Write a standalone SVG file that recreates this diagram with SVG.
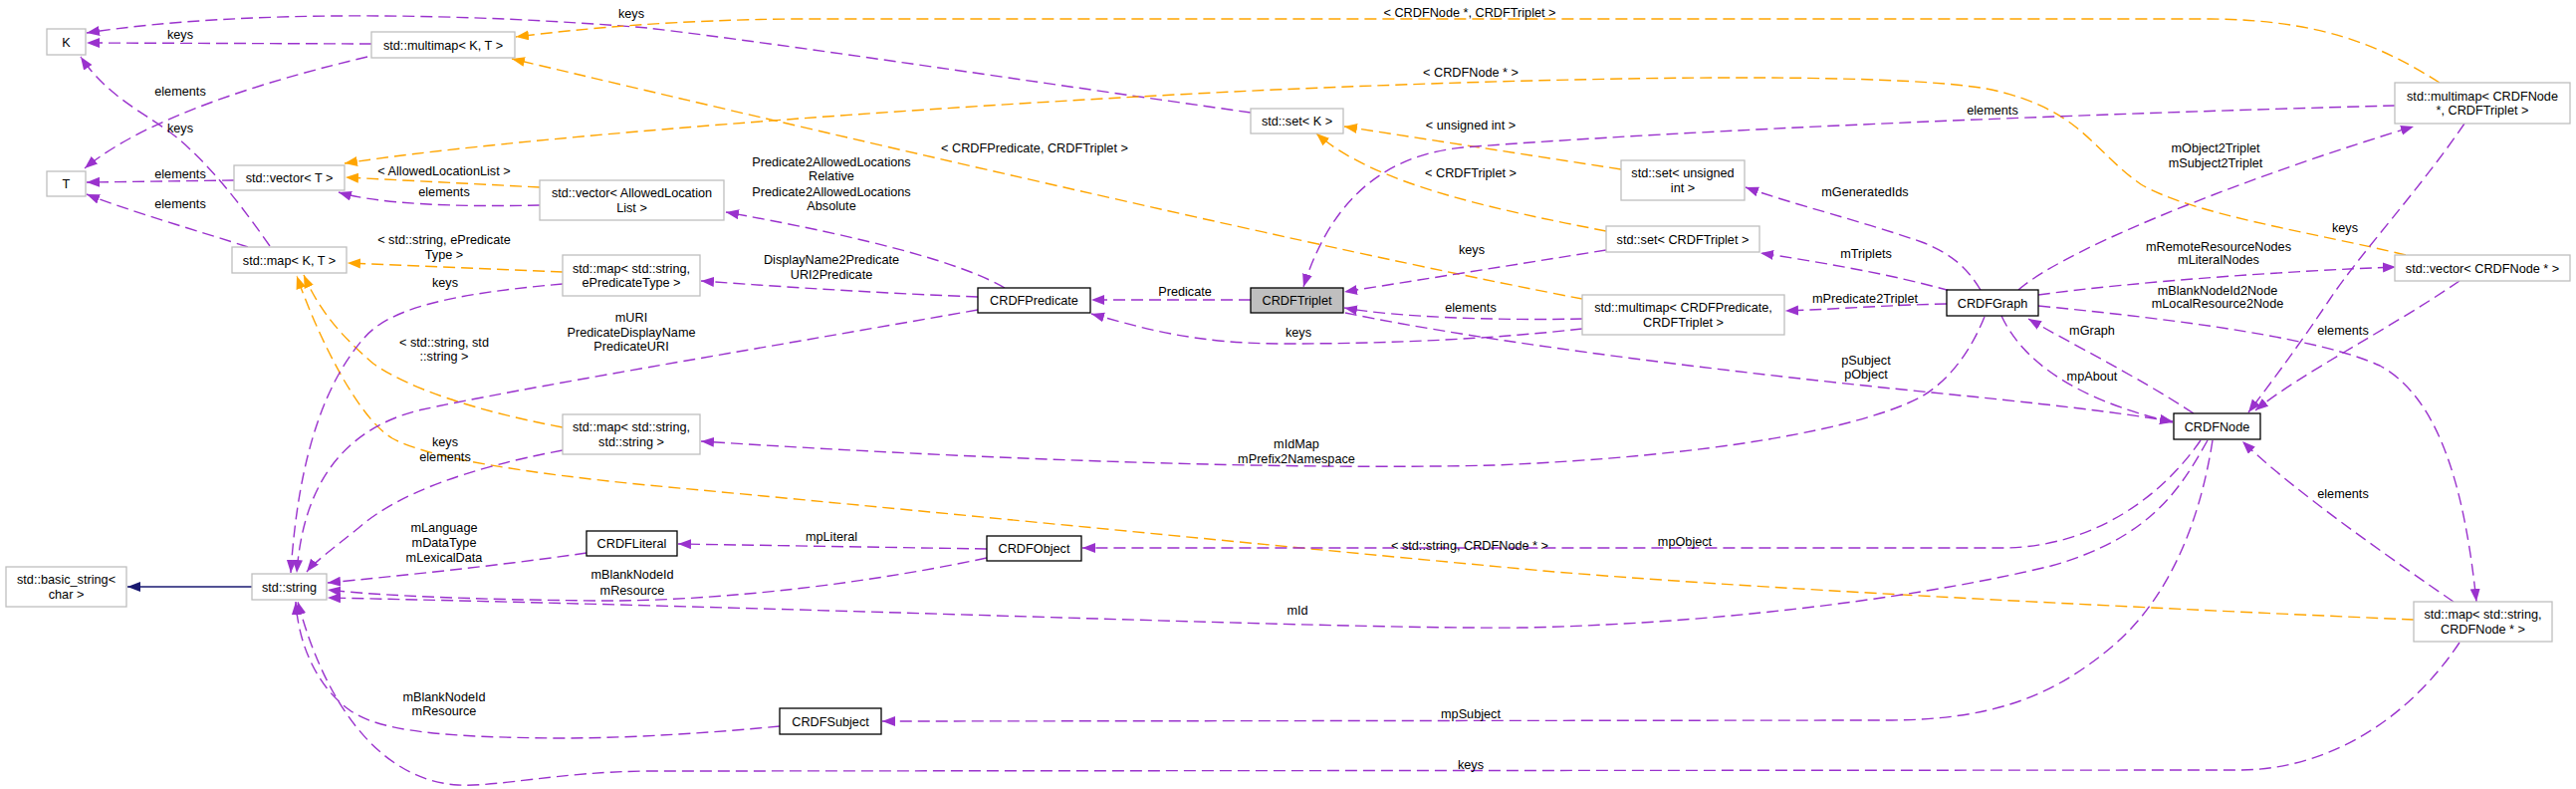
<svg xmlns="http://www.w3.org/2000/svg" width="2587" height="792" viewBox="0 0 2587 792">
<style>
text{font-family:"Liberation Sans",Arial,sans-serif;font-size:12.7px;text-anchor:middle;fill:#000}
.n rect{fill:#fff;stroke:#bfbfbf;stroke-width:1.3}
.c rect{fill:#fff;stroke:#000;stroke-width:1.3}
.r rect{fill:#bfbfbf;stroke:#000;stroke-width:1.3}
.u{fill:none;stroke:#9a32cd;stroke-width:1.4;stroke-dasharray:12 6;marker-end:url(#ap)}
.t{fill:none;stroke:#ffa500;stroke-width:1.4;stroke-dasharray:12 6;marker-end:url(#ao)}
.i{fill:none;stroke:#191970;stroke-width:1.4;marker-end:url(#an)}
</style>
<defs>
<marker id="ap" markerUnits="userSpaceOnUse" markerWidth="14" markerHeight="11" refX="13" refY="5" orient="auto"><path d="M0,0 L13,5 L0,10 z" fill="#9a32cd"/></marker>
<marker id="ao" markerUnits="userSpaceOnUse" markerWidth="14" markerHeight="11" refX="13" refY="5" orient="auto"><path d="M0,0 L13,5 L0,10 z" fill="#ffa500"/></marker>
<marker id="an" markerUnits="userSpaceOnUse" markerWidth="14" markerHeight="11" refX="13" refY="5" orient="auto"><path d="M0,0 L13,5 L0,10 z" fill="#191970"/></marker>
</defs>
<rect width="2587" height="792" fill="#fff"/>
<g id="connectors">
<path class="u" d="M373,44 L87,43"/>
<path class="u" d="M369,57 C280,78 150,115 85,169"/>
<path class="u" d="M1256,113 C1050,84 800,46 650,28 C480,14 250,8 87,33"/>
<path class="u" d="M235,181 L87,183"/>
<path class="u" d="M249,248 C200,232 130,212 87,195"/>
<path class="u" d="M271,247 C245,210 215,170 180,140 C150,115 110,100 81,57"/>
<path class="t" d="M2450,83 C2390,45 2330,20 2220,19 L800,19 C680,20 590,28 518,37"/>
<path class="t" d="M1589,300 Q1300,245 514,59"/>
<path class="t" d="M2416,256 C2330,235 2200,215 2150,185 C2100,150 2090,110 2000,90 C1930,76 1700,72 1280,90 C900,108 500,140 346,164"/>
<path class="t" d="M542,188 L347,178"/>
<path class="u" d="M542,206 C460,208 380,205 340,193"/>
<path class="t" d="M565,273 L349,264"/>
<path class="t" d="M565,429 C480,413 410,390 375,365 C340,335 320,310 305,276"/>
<path class="t" d="M2424,622 C2100,608 1750,590 1550,573 C1300,550 900,510 650,487 C530,475 430,460 394,440 C360,420 320,340 298,277"/>
<path class="t" d="M1628,170 L1350,127"/>
<path class="t" d="M1613,232 C1500,210 1380,185 1322,134"/>
<path class="u" d="M1613,251 L1350,293"/>
<path class="u" d="M2405,106 C2100,114 1700,130 1469,148 C1400,155 1340,190 1309,288"/>
<path class="u" d="M1589,320 C1500,322 1400,318 1350,309"/>
<path class="u" d="M1589,330 C1500,340 1400,345 1290,345 C1200,345 1150,330 1096,315"/>
<path class="u" d="M1256,301 L1096,301"/>
<path class="u" d="M1009,289 C970,266 880,240 729,213"/>
<path class="u" d="M982,298 C900,295 800,289 704,282"/>
<path class="u" d="M982,311 C750,352 520,390 420,412 C350,430 305,480 298,575"/>
<path class="u" d="M565,285 C450,295 390,310 365,340 C330,380 300,450 292,575"/>
<path class="u" d="M565,452 C470,470 400,495 360,530 C335,550 315,565 308,574"/>
<path class="u" d="M589,555 C500,568 400,578 329,585"/>
<path class="u" d="M991,560 C850,590 700,604 600,603 C480,602 380,598 329,592"/>
<path class="u" d="M2217,442 C2190,490 2160,540 2060,568 C1950,595 1750,625 1532,630 C1350,632 900,612 329,600"/>
<path class="u" d="M783,729 C720,735 640,741 560,741 C450,740 380,735 350,712 C320,690 300,650 297,604"/>
<path class="u" d="M2470,645 C2420,720 2340,773 2248,773 L650,774 C560,775 500,790 460,788 C390,784 330,720 299,604"/>
<path class="u" d="M991,551 L681,546"/>
<path class="u" d="M2210,442 C2170,500 2100,550 2010,550 L1087,550"/>
<path class="u" d="M2222,442 C2210,520 2180,600 2120,650 C2060,700 2000,722 1900,723 L886,724"/>
<path class="i" d="M253,589 L128,589"/>
<path class="u" d="M1989,291 C1975,268 1960,255 1930,243 C1870,222 1800,205 1753,188"/>
<path class="u" d="M1958,292 C1900,275 1820,262 1768,254"/>
<path class="u" d="M1955,305 C1900,306 1850,310 1793,312"/>
<path class="u" d="M2027,291 C2080,245 2280,170 2424,127"/>
<path class="u" d="M2047,296 C2150,282 2300,272 2406,268"/>
<path class="u" d="M2475,124 C2430,190 2370,255 2340,300 C2310,345 2280,385 2258,414"/>
<path class="u" d="M2470,282 C2400,330 2310,375 2265,412"/>
<path class="u" d="M2203,415 C2150,380 2080,345 2037,320"/>
<path class="u" d="M2010,317 C2030,360 2080,400 2182,424"/>
<path class="u" d="M1351,314 C1500,345 1750,375 1940,394 C2050,405 2120,413 2182,423"/>
<path class="u" d="M1993,318 C1980,350 1960,380 1930,398 C1870,430 1720,458 1500,467 C1300,472 1000,462 704,443"/>
<path class="u" d="M2047,307 C2200,322 2330,340 2390,367 C2450,400 2475,490 2487,604"/>
<path class="u" d="M2464,604 C2400,560 2300,490 2252,443"/>
</g>
<g id="edge-labels">
<text x="181" y="38.5">keys</text>
<text x="181" y="95.5">elements</text>
<text x="634" y="17.5">keys</text>
<text x="181" y="178.5">elements</text>
<text x="181" y="208.5">elements</text>
<text x="181" y="132.5">keys</text>
<text x="1476" y="16.5">&lt; CRDFNode *, CRDFTriplet &gt;</text>
<text x="1039" y="152.5">&lt; CRDFPredicate, CRDFTriplet &gt;</text>
<text x="1477" y="76.5">&lt; CRDFNode * &gt;</text>
<text x="446" y="175.5">&lt; AllowedLocationList &gt;</text>
<text x="446" y="196.5">elements</text>
<text x="446" y="244.5">&lt; std::string, ePredicate</text>
<text x="446" y="259.5">Type &gt;</text>
<text x="446" y="347.5">&lt; std::string, std</text>
<text x="446" y="361.5">::string &gt;</text>
<text x="1476" y="551.5">&lt; std::string, CRDFNode * &gt;</text>
<text x="1477" y="129.5">&lt; unsigned int &gt;</text>
<text x="1477" y="177.5">&lt; CRDFTriplet &gt;</text>
<text x="1478" y="254.5">keys</text>
<text x="2001" y="114.5">elements</text>
<text x="1477" y="312.5">elements</text>
<text x="1304" y="337.5">keys</text>
<text x="1190" y="296.5">Predicate</text>
<text x="835" y="166.5">Predicate2AllowedLocations</text>
<text x="835" y="180.5">Relative</text>
<text x="835" y="196.5">Predicate2AllowedLocations</text>
<text x="835" y="210.5">Absolute</text>
<text x="835" y="264.5">DisplayName2Predicate</text>
<text x="835" y="279.5">URI2Predicate</text>
<text x="634" y="322.5">mURI</text>
<text x="634" y="337.5">PredicateDisplayName</text>
<text x="634" y="351.5">PredicateURI</text>
<text x="447" y="287.5">keys</text>
<text x="447" y="447.5">keys</text>
<text x="447" y="462.5">elements</text>
<text x="446" y="533.5">mLanguage</text>
<text x="446" y="548.5">mDataType</text>
<text x="446" y="563.5">mLexicalData</text>
<text x="635" y="580.5">mBlankNodeId</text>
<text x="635" y="596.5">mResource</text>
<text x="835" y="542.5">mpLiteral</text>
<text x="1303" y="616.5">mId</text>
<text x="1692" y="547.5">mpObject</text>
<text x="1477" y="720.5">mpSubject</text>
<text x="1477" y="771.5">keys</text>
<text x="446" y="703.5">mBlankNodeId</text>
<text x="446" y="717.5">mResource</text>
<text x="1873" y="196.5">mGeneratedIds</text>
<text x="1874" y="258.5">mTriplets</text>
<text x="1873" y="303.5">mPredicate2Triplet</text>
<text x="2225" y="152.5">mObject2Triplet</text>
<text x="2225" y="167.5">mSubject2Triplet</text>
<text x="2228" y="251.5">mRemoteResourceNodes</text>
<text x="2228" y="264.5">mLiteralNodes</text>
<text x="2355" y="232.5">keys</text>
<text x="2353" y="335.5">elements</text>
<text x="2227" y="295.5">mBlankNodeId2Node</text>
<text x="2227" y="308.5">mLocalResource2Node</text>
<text x="2101" y="335.5">mGraph</text>
<text x="2101" y="381.5">mpAbout</text>
<text x="1874" y="365.5">pSubject</text>
<text x="1874" y="379.5">pObject</text>
<text x="1302" y="449.5">mIdMap</text>
<text x="1302" y="464.5">mPrefix2Namespace</text>
<text x="2353" y="499.5">elements</text>
</g>
<g id="K" class="n"><rect x="47" y="29" width="39" height="26"/><text x="66.5" y="46.5">K</text></g>
<g id="T" class="n"><rect x="47" y="172" width="39" height="25"/><text x="66.5" y="189">T</text></g>
<g id="multimapKT" class="n"><rect x="373" y="32" width="144" height="26"/><text x="445" y="49.5">std::multimap&lt; K, T &gt;</text></g>
<g id="vectorT" class="n"><rect x="235" y="166" width="111" height="25"/><text x="290.5" y="183">std::vector&lt; T &gt;</text></g>
<g id="mapKT" class="n"><rect x="233" y="248" width="115" height="26"/><text x="290.5" y="265.5">std::map&lt; K, T &gt;</text></g>
<g id="vectorAllowedLocationList" class="n"><rect x="542" y="181" width="185" height="40"/><text x="634.5" y="198.2">std::vector&lt; AllowedLocation</text><text x="634.5" y="212.8">List &gt;</text></g>
<g id="mapStringEPredicateType" class="n"><rect x="565" y="256" width="138" height="41"/><text x="634" y="273.7">std::map&lt; std::string,</text><text x="634" y="288.3">ePredicateType &gt;</text></g>
<g id="mapStringString" class="n"><rect x="565" y="416" width="138" height="40"/><text x="634" y="433.2">std::map&lt; std::string,</text><text x="634" y="447.8">std::string &gt;</text></g>
<g id="setK" class="n"><rect x="1256" y="109" width="93" height="25"/><text x="1302.5" y="126">std::set&lt; K &gt;</text></g>
<g id="setUnsignedInt" class="n"><rect x="1628" y="161" width="124" height="40"/><text x="1690" y="178.2">std::set&lt; unsigned</text><text x="1690" y="192.8">int &gt;</text></g>
<g id="setCRDFTriplet" class="n"><rect x="1613" y="227" width="154" height="26"/><text x="1690" y="244.5">std::set&lt; CRDFTriplet &gt;</text></g>
<g id="multimapNodeTriplet" class="n"><rect x="2405" y="83" width="176" height="41"/><text x="2493" y="100.7">std::multimap&lt; CRDFNode</text><text x="2493" y="115.3">*, CRDFTriplet &gt;</text></g>
<g id="vectorCRDFNode" class="n"><rect x="2405" y="256" width="176" height="26"/><text x="2493" y="273.5">std::vector&lt; CRDFNode * &gt;</text></g>
<g id="CRDFPredicate" class="c"><rect x="982" y="289" width="113" height="25"/><text x="1038.5" y="306">CRDFPredicate</text></g>
<g id="CRDFTriplet" class="r"><rect x="1256" y="289" width="93" height="25"/><text x="1302.5" y="306">CRDFTriplet</text></g>
<g id="multimapPredicateTriplet" class="n"><rect x="1589" y="296" width="203" height="40"/><text x="1690.5" y="313.2">std::multimap&lt; CRDFPredicate,</text><text x="1690.5" y="327.8">CRDFTriplet &gt;</text></g>
<g id="CRDFGraph" class="c"><rect x="1955" y="291" width="92" height="26"/><text x="2001" y="308.5">CRDFGraph</text></g>
<g id="CRDFNode" class="c"><rect x="2183" y="415" width="87" height="26"/><text x="2226.5" y="432.5">CRDFNode</text></g>
<g id="basicString" class="n"><rect x="6" y="569" width="121" height="40"/><text x="66.5" y="586.2">std::basic_string&lt;</text><text x="66.5" y="600.8">char &gt;</text></g>
<g id="stdString" class="n"><rect x="253" y="576" width="75" height="26"/><text x="290.5" y="593.5">std::string</text></g>
<g id="CRDFLiteral" class="c"><rect x="589" y="533" width="91" height="25"/><text x="634.5" y="550">CRDFLiteral</text></g>
<g id="CRDFObject" class="c"><rect x="991" y="538" width="95" height="25"/><text x="1038.5" y="555">CRDFObject</text></g>
<g id="CRDFSubject" class="c"><rect x="783" y="711" width="102" height="26"/><text x="834" y="728.5">CRDFSubject</text></g>
<g id="mapStringCRDFNode" class="n"><rect x="2424" y="604" width="139" height="40"/><text x="2493.5" y="621.2">std::map&lt; std::string,</text><text x="2493.5" y="635.8">CRDFNode * &gt;</text></g>
</svg>
